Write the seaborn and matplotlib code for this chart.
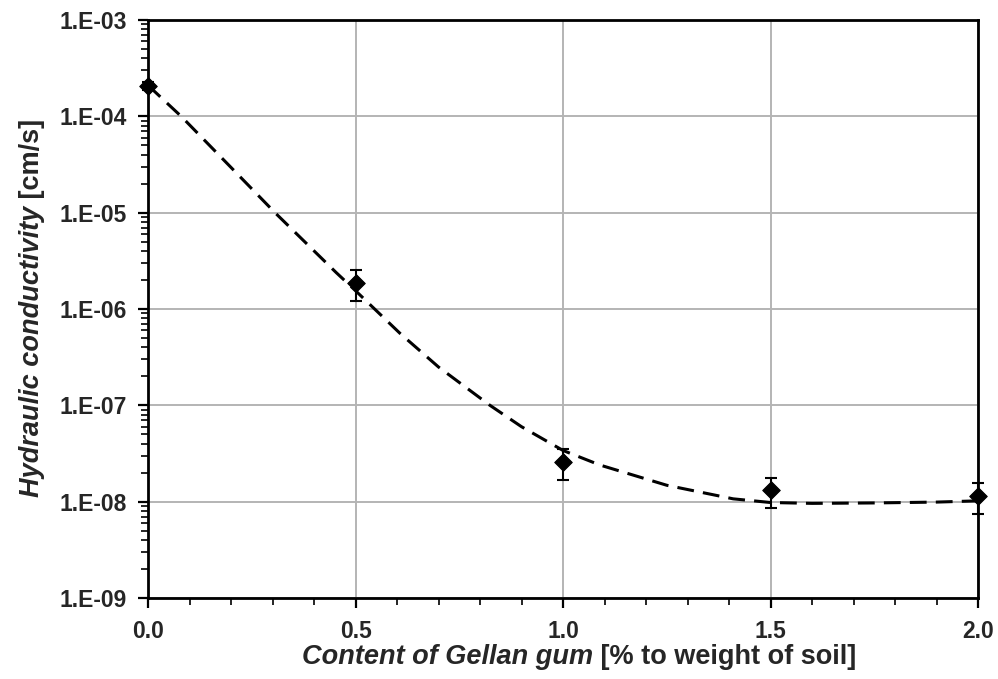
import numpy as np
import pandas as pd
import matplotlib.pyplot as plt
import matplotlib.ticker as mticker
import seaborn as sns

# measured points
gellan = [0.0, 0.5, 1.0, 1.5, 2.0]
k_mean = [2.06e-4, 1.86e-6, 2.57e-8, 1.32e-8, 1.14e-8]
k_low = [1.9e-4, 1.21e-6, 1.67e-8, 8.6e-9, 7.4e-9]
k_high = [2.3e-4, 2.54e-6, 3.5e-8, 1.75e-8, 1.55e-8]

# dashed trend line
trend_x = [0.0, 0.08, 0.2, 0.306, 0.453, 0.5, 0.607, 0.7, 0.824, 0.9, 1.0, 1.089,
           1.25, 1.41, 1.5, 1.6, 1.75, 1.9, 2.0]
trend_k = [2.1e-4, 1.0e-4, 2.95e-5, 1.0e-5, 2.4e-6, 1.55e-6, 5.6e-7, 2.5e-7, 1.0e-7,
           6.0e-8, 3.4e-8, 2.4e-8, 1.48e-8, 1.07e-8, 9.8e-9, 9.6e-9, 9.7e-9,
           9.9e-9, 1.02e-8]

sns.set_style("white")
plt.rcParams['font.family'] = ['Liberation Sans', 'DejaVu Sans']

fig = plt.figure(figsize=(9.98, 6.79), dpi=100)
ax = fig.add_axes([0.1483, 0.1193, 0.8317, 0.8512])

pts = pd.DataFrame({'x': gellan, 'k': k_mean})
trend = pd.DataFrame({'x': trend_x, 'k': trend_k})

sns.lineplot(data=trend, x='x', y='k', ax=ax, color='black', lw=2.2,
             linestyle=(0, (5.5, 3)), zorder=3)
yerr = [np.array(k_mean) - np.array(k_low), np.array(k_high) - np.array(k_mean)]
ax.errorbar(gellan, k_mean, yerr=yerr, fmt='none', ecolor='black',
            elinewidth=1.5, capsize=4.5, capthick=1.5, zorder=4, clip_on=False)
sns.scatterplot(data=pts, x='x', y='k', ax=ax, marker='D', s=80, color='black',
                edgecolor='black', zorder=5, clip_on=False)

ax.set_yscale('log')
ax.set_ylim(1e-9, 1e-3)
ax.set_xlim(0, 2.0)
ax.set_xticks([0.0, 0.5, 1.0, 1.5, 2.0])
ax.xaxis.set_major_formatter(mticker.FormatStrFormatter('%.1f'))
ax.xaxis.set_minor_locator(mticker.MultipleLocator(0.1))
ax.yaxis.set_major_locator(mticker.LogLocator(base=10, numticks=10))
ax.yaxis.set_minor_locator(mticker.LogLocator(base=10, subs=np.arange(2, 10), numticks=100))
ax.yaxis.set_minor_formatter(mticker.NullFormatter())
ax.yaxis.set_major_formatter(mticker.FuncFormatter(
    lambda v, p: '1.E-%02d' % round(-np.log10(v))))

ax.grid(True, which='major', color='#b4b4b4', lw=1.4)
ax.set_axisbelow(True)
for s in ax.spines.values():
    s.set_color('black')
    s.set_linewidth(2)

ax.tick_params(which='major', direction='out', length=7, width=1.6, color='black',
               labelsize=16.5, bottom=True, left=True)
ax.tick_params(which='minor', direction='out', length=5, width=1.2, color='black',
               bottom=True, left=True)
ax.tick_params(axis='x', which='major', pad=9)
ax.tick_params(axis='y', which='major', pad=8)
for lab in ax.get_xticklabels() + ax.get_yticklabels():
    lab.set_fontweight('bold')

ax.set_xlabel('')
ax.set_ylabel('')
ax.xaxis.label.set_visible(False)
ax.yaxis.label.set_visible(False)

# axis titles: italic part + upright part
fs = 19.5
fig.canvas.draw()
r = fig.canvas.get_renderer()
t1 = fig.text(0.3, 0.022, 'Content of Gellan gum', fontsize=fs, fontweight='bold',
              style='italic', va='baseline', ha='left')
t2 = fig.text(0.3, 0.022, ' [% to weight of soil]', fontsize=fs, fontweight='bold',
              va='baseline', ha='left')
w1 = t1.get_window_extent(r).width
w2 = t2.get_window_extent(r).width
cx = 579
t1.set_x((cx - (w1 + w2) / 2) / fig.bbox.width)
t2.set_x((cx - (w1 + w2) / 2 + w1) / fig.bbox.width)

u1 = fig.text(0.045, 0.3, 'Hydraulic conductivity', fontsize=fs, fontweight='bold',
              style='italic', rotation=90, ha='left', va='bottom',
              rotation_mode='anchor')
u2 = fig.text(0.045, 0.3, ' [cm/s]', fontsize=fs, fontweight='bold', rotation=90,
              ha='left', va='bottom', rotation_mode='anchor')
h1 = u1.get_window_extent(r).height
h2 = u2.get_window_extent(r).height
cy = (1 - 308 / 679) * fig.bbox.height
u1.set_y((cy - (h1 + h2) / 2) / fig.bbox.height)
u2.set_y((cy - (h1 + h2) / 2 + h1) / fig.bbox.height)

fig.savefig('out.png', dpi=100)
